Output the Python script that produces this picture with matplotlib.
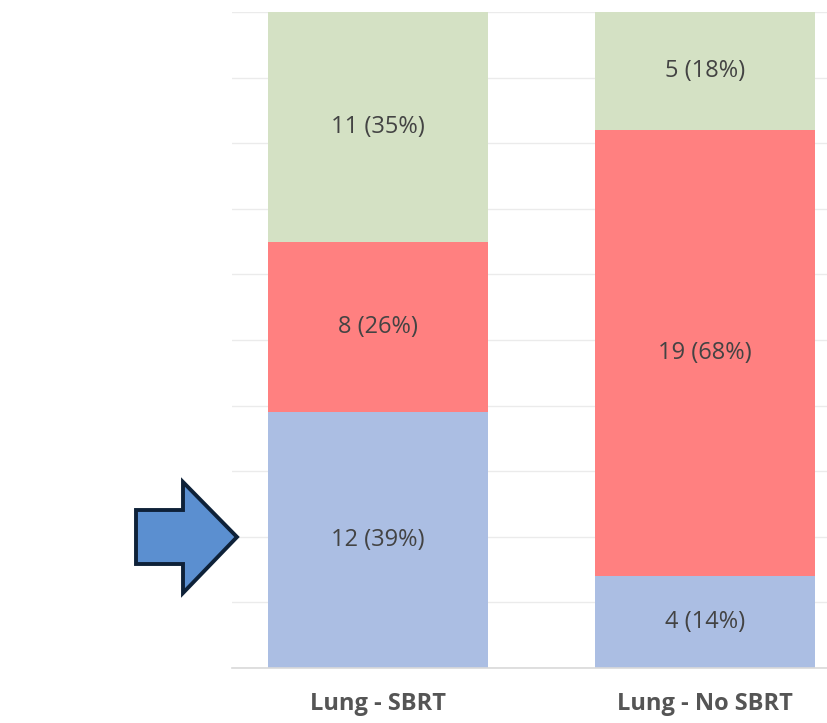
import matplotlib
matplotlib.use("Agg")
import matplotlib.pyplot as plt
from matplotlib.patches import Polygon

categories = ["Lung - SBRT", "Lung - No SBRT"]
blue_n = [12, 4]
blue_pct = [39, 14]
red_n = [8, 19]
red_pct = [26, 68]
green_n = [11, 5]
green_pct = [35, 18]

colors = {"blue": "#abbee3", "red": "#ff8080", "green": "#d4e1c4"}
label_color = "#434343"

fig = plt.figure(figsize=(8.28, 7.23), dpi=100)
ax = fig.add_axes([232 / 828, 55 / 723, 1 - 232 / 828, 656 / 723])

x = list(range(len(categories)))
width = 0.67
bottom = [0, 0]
for pcts, ns, key in [(blue_pct, blue_n, "blue"),
                      (red_pct, red_n, "red"),
                      (green_pct, green_n, "green")]:
    ax.bar(x, pcts, width=width, bottom=bottom, color=colors[key],
           edgecolor="none", zorder=2)
    for xi, b, p, n in zip(x, bottom, pcts, ns):
        ax.text(xi, b + p / 2, f"{n} ({p}%)", ha="center", va="center",
                fontsize=17, color=label_color, family="Open Sans", zorder=3)
    bottom = [b + p for b, p in zip(bottom, pcts)]

ax.set_ylim(0, 100)
ax.set_xlim(-(378 - 232) / 327, 1 + (828 - 705) / 327)
ax.set_yticks(range(0, 101, 10))
ax.yaxis.grid(True, color="#ebebeb", linewidth=1.0, zorder=0)
ax.set_axisbelow(True)
for side in ["top", "right", "left"]:
    ax.spines[side].set_visible(False)
ax.spines["bottom"].set_color("#d9d9d9")
ax.spines["bottom"].set_linewidth(1.2)
ax.tick_params(axis="y", left=False, labelleft=False)
ax.tick_params(axis="x", bottom=False, pad=14)
ax.set_xticks(x)
ax.set_xticklabels(categories, fontsize=17, fontweight="bold",
                   color="#555555", family="Open Sans")

# block arrow pointing at the first bar
W, H = 828, 723
pts = [(136, 510), (183, 510), (183, 482), (237, 537), (183, 593),
       (183, 564), (136, 564)]
arrow = Polygon([(px / W, 1 - py / H) for px, py in pts], closed=True,
                transform=fig.transFigure, facecolor="#5b8fd0",
                edgecolor="#0e2138", linewidth=2.8, joinstyle="miter")
fig.patches.append(arrow)

fig.savefig("out.png", dpi=100)
